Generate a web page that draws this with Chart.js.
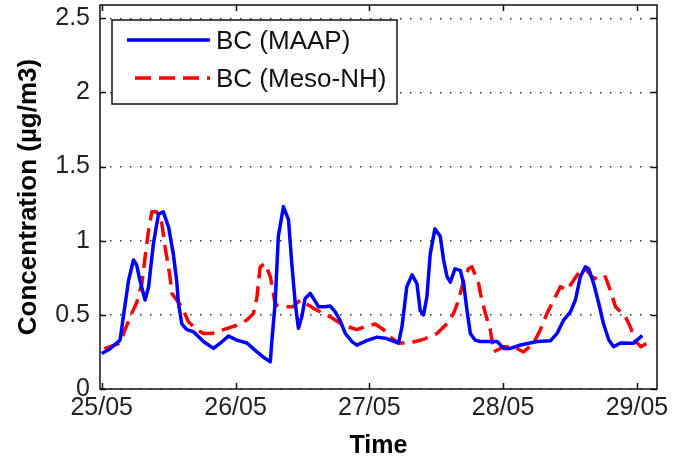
<!DOCTYPE html>
<html>
<head>
<meta charset="utf-8">
<script src="https://cdn.jsdelivr.net/npm/chart.js@4.4.1/dist/chart.umd.min.js"></script>
<style>
  html, body { margin: 0; padding: 0; background: #fff; }
</style>
</head>
<body>
<canvas id="bcChart" width="683" height="463"></canvas>
<script>
// time in days since 25/05 00:00, concentration in µg/m3
const maapTime = [0, 0.06, 0.137, 0.162, 0.2, 0.237, 0.26, 0.286, 0.324, 0.35, 0.386, 0.424, 0.46, 0.5, 0.535, 0.56, 0.573, 0.598, 0.636, 0.685, 0.76, 0.835, 0.9, 0.947, 1.01, 1.085, 1.16, 1.22, 1.26, 1.27, 1.296, 1.32, 1.358, 1.396, 1.42, 1.446, 1.47, 1.496, 1.52, 1.558, 1.583, 1.62, 1.67, 1.707, 1.745, 1.78, 1.82, 1.87, 1.907, 1.98, 2.057, 2.13, 2.218, 2.244, 2.28, 2.32, 2.356, 2.38, 2.405, 2.43, 2.455, 2.49, 2.53, 2.555, 2.58, 2.605, 2.64, 2.68, 2.705, 2.73, 2.755, 2.79, 2.83, 2.9, 2.955, 3.004, 3.054, 3.13, 3.254, 3.353, 3.403, 3.452, 3.503, 3.54, 3.577, 3.615, 3.64, 3.677, 3.714, 3.75, 3.79, 3.826, 3.876, 3.976, 4.013, 4.04];
const maapBC = [0.24, 0.27, 0.33, 0.49, 0.73, 0.87, 0.84, 0.73, 0.6, 0.69, 0.98, 1.18, 1.195, 1.09, 0.91, 0.73, 0.58, 0.44, 0.4, 0.386, 0.32, 0.274, 0.32, 0.357, 0.33, 0.31, 0.25, 0.207, 0.184, 0.31, 0.58, 1.03, 1.23, 1.14, 0.85, 0.58, 0.41, 0.49, 0.61, 0.645, 0.61, 0.555, 0.555, 0.56, 0.52, 0.465, 0.375, 0.32, 0.296, 0.326, 0.35, 0.34, 0.31, 0.42, 0.69, 0.77, 0.71, 0.53, 0.5, 0.62, 0.91, 1.08, 1.03, 0.87, 0.76, 0.72, 0.81, 0.8, 0.71, 0.53, 0.375, 0.33, 0.32, 0.32, 0.32, 0.274, 0.274, 0.297, 0.32, 0.325, 0.375, 0.465, 0.52, 0.6, 0.757, 0.824, 0.81, 0.71, 0.58, 0.44, 0.33, 0.285, 0.31, 0.308, 0.34, 0.36];

const mesoTime = [0.02, 0.062, 0.137, 0.174, 0.224, 0.26, 0.3, 0.324, 0.35, 0.374, 0.41, 0.449, 0.473, 0.51, 0.524, 0.56, 0.598, 0.648, 0.71, 0.76, 0.823, 0.91, 1.01, 1.085, 1.134, 1.16, 1.184, 1.22, 1.26, 1.283, 1.296, 1.384, 1.43, 1.483, 1.583, 1.707, 1.807, 1.907, 1.98, 2.044, 2.107, 2.156, 2.218, 2.306, 2.405, 2.506, 2.58, 2.63, 2.667, 2.705, 2.742, 2.767, 2.817, 2.83, 2.867, 2.904, 2.93, 3.004, 3.078, 3.153, 3.228, 3.278, 3.328, 3.378, 3.428, 3.478, 3.527, 3.577, 3.615, 3.665, 3.714, 3.764, 3.8, 3.84, 3.914, 3.95, 3.99, 4.03, 4.077];
const mesoBC = [0.27, 0.285, 0.31, 0.4, 0.51, 0.58, 0.71, 0.89, 1.07, 1.195, 1.195, 1.117, 0.96, 0.757, 0.645, 0.6, 0.555, 0.454, 0.4, 0.375, 0.375, 0.4, 0.43, 0.465, 0.51, 0.62, 0.824, 0.847, 0.757, 0.645, 0.566, 0.555, 0.555, 0.6, 0.544, 0.487, 0.43, 0.4, 0.424, 0.438, 0.4, 0.352, 0.31, 0.312, 0.335, 0.375, 0.44, 0.51, 0.6, 0.734, 0.813, 0.824, 0.71, 0.645, 0.51, 0.4, 0.25, 0.285, 0.285, 0.25, 0.31, 0.4, 0.51, 0.6, 0.69, 0.667, 0.734, 0.8, 0.81, 0.757, 0.734, 0.757, 0.667, 0.555, 0.487, 0.42, 0.32, 0.285, 0.31];

const dayTicks = [0, 1, 2, 3, 4];
const dayLabels = ['25/05', '26/05', '27/05', '28/05', '29/05'];
const concTicks = [0, 0.5, 1, 1.5, 2, 2.5];

const FONT = 'Liberation Sans, Arial, Helvetica, sans-serif';

// MATLAB style box with inward ticks
const axesBox = {
  id: 'axesBox',
  afterDatasetsDraw(chart) {
    const { ctx, chartArea: a, scales: { x, y } } = chart;
    ctx.save();
    ctx.strokeStyle = '#111';
    ctx.lineWidth = 1.5;
    ctx.strokeRect(a.left, a.top, a.right - a.left, a.bottom - a.top);
    const tl = 6;
    ctx.beginPath();
    dayTicks.forEach(v => {
      const px = Math.round(x.getPixelForValue(v)) + 0.5;
      ctx.moveTo(px, a.bottom); ctx.lineTo(px, a.bottom - tl);
      ctx.moveTo(px, a.top); ctx.lineTo(px, a.top + tl);
    });
    concTicks.forEach(v => {
      const py = Math.round(y.getPixelForValue(v)) + 0.5;
      ctx.moveTo(a.left, py); ctx.lineTo(a.left + tl, py);
      ctx.moveTo(a.right, py); ctx.lineTo(a.right - tl, py);
    });
    ctx.stroke();
    ctx.restore();
  }
};

// legend inside the axes, top left
const boxLegend = {
  id: 'boxLegend',
  afterDraw(chart) {
    const { ctx, chartArea: a } = chart;
    const left = a.left + 12, top = a.top + 15, w = 285, h = 84;
    ctx.save();
    ctx.fillStyle = '#fff';
    ctx.fillRect(left, top, w, h);
    ctx.strokeStyle = '#111';
    ctx.lineWidth = 1.5;
    ctx.strokeRect(left, top, w, h);
    ctx.font = '26px ' + FONT;
    ctx.textBaseline = 'middle';
    chart.data.datasets.forEach((ds, i) => {
      const yy = top + 20 + i * 38;
      ctx.beginPath();
      ctx.strokeStyle = ds.borderColor;
      ctx.lineWidth = ds.borderWidth;
      ctx.setLineDash(ds.borderDash || []);
      ctx.lineDashOffset = ds.borderDash ? -8 : 0;
      ctx.moveTo(left + 15, yy);
      ctx.lineTo(left + 98, yy);
      ctx.stroke();
      ctx.setLineDash([]);
      ctx.fillStyle = '#111';
      ctx.fillText(ds.label, left + 104, yy + 2);
    });
    ctx.restore();
  }
};

const ctx = document.getElementById('bcChart').getContext('2d');
const bcChart = new Chart(ctx, {
  type: 'line',
  data: {
    datasets: [{
      label: 'BC (MAAP)',
      data: maapTime.map((t, i) => ({ x: t, y: maapBC[i] })),
      borderColor: '#0000ff',
      borderWidth: 3.5,
      fill: false
    }, {
      label: 'BC (Meso-NH)',
      data: mesoTime.map((t, i) => ({ x: t, y: mesoBC[i] })),
      borderColor: '#ff0000',
      borderWidth: 3.5,
      borderDash: [16, 8],
      fill: false
    }]
  },
  options: {
    responsive: false,
    animation: false,
    devicePixelRatio: 1,
    layout: { padding: { top: 5, right: 26, left: 0, bottom: 0 } },
    plugins: { legend: { display: false }, tooltip: { enabled: false } },
    elements: { point: { radius: 0 }, line: { tension: 0, borderJoinStyle: 'round' } },
    scales: {
      x: {
        type: 'linear',
        min: -0.013,
        max: 4.15,
        afterBuildTicks: s => { s.ticks = dayTicks.map(v => ({ value: v })); },
        afterFit: s => { s.height = 74; s.paddingLeft = 0; s.paddingRight = 0; },
        grid: { display: false, drawTicks: false },
        border: { display: false },
        ticks: {
          padding: 4,
          color: '#222',
          font: { family: FONT, size: 25 },
          maxRotation: 0,
          autoSkip: false,
          callback: (v, i) => dayLabels[i]
        },
        title: {
          display: true,
          text: 'Time',
          color: '#000',
          font: { family: FONT, size: 25, weight: 'bold' },
          padding: { top: 0, bottom: 2 }
        }
      },
      y: {
        min: 0,
        max: 2.59,
        afterBuildTicks: s => { s.ticks = concTicks.map(v => ({ value: v })); },
        afterFit: s => { s.width = 100; s.paddingTop = 0; s.paddingBottom = 0; },
        grid: { drawTicks: false, color: '#333', lineWidth: 1.5 },
        border: { display: false, dash: [1.5, 8.5] },
        ticks: {
          padding: 10,
          color: '#222',
          font: { family: FONT, size: 25 },
          callback: v => String(v)
        },
        title: {
          display: true,
          text: 'Concentration (µg/m3)',
          color: '#000',
          font: { family: FONT, size: 26, weight: 'bold' },
          padding: { top: 13, bottom: 0 }
        }
      }
    }
  },
  plugins: [axesBox, boxLegend]
});
</script>
</body>
</html>
